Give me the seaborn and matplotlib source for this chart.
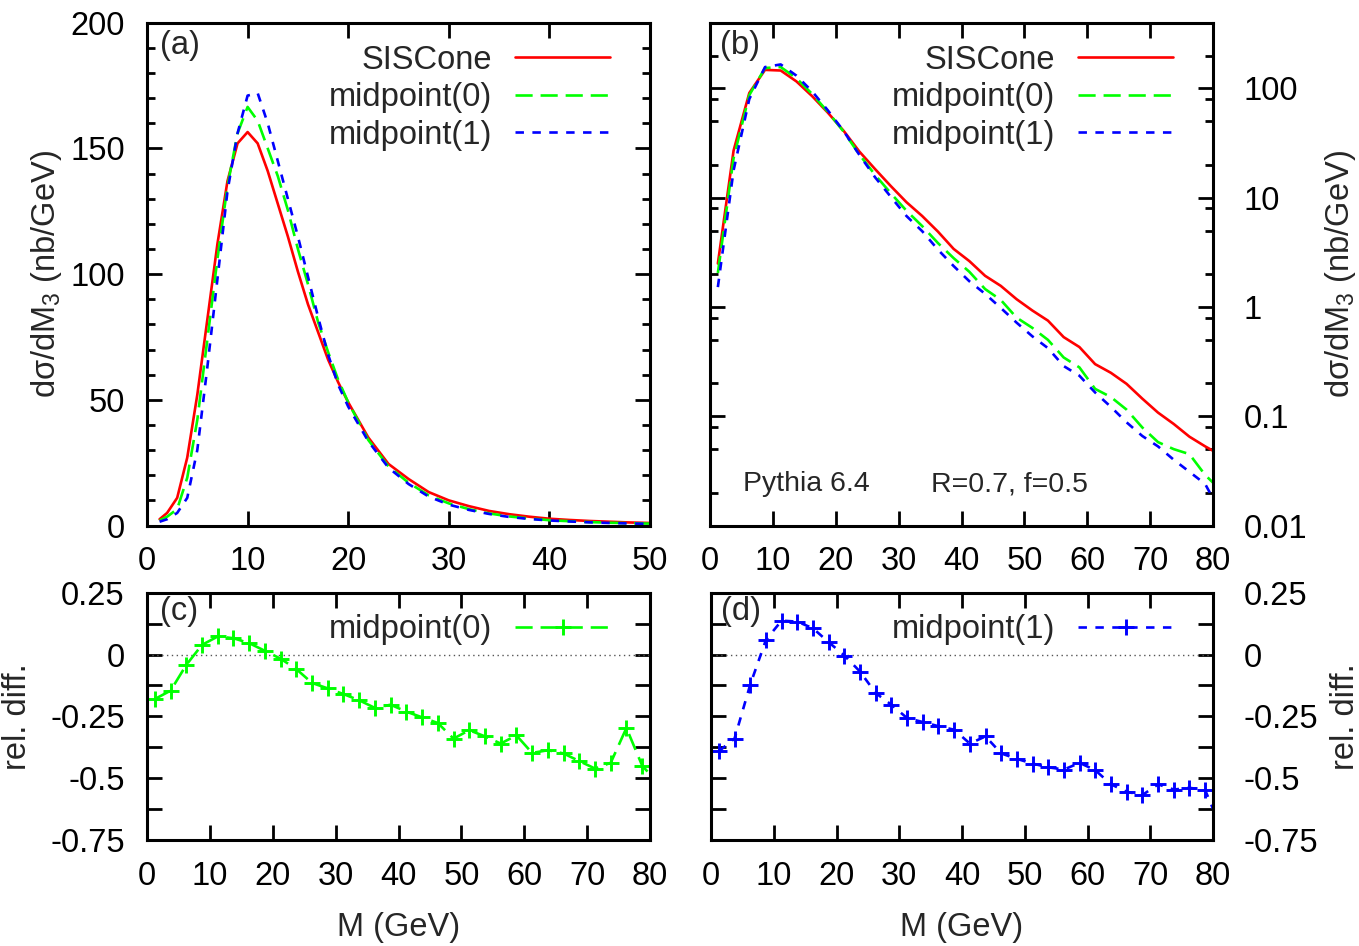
import numpy as np
import pandas as pd
import matplotlib
matplotlib.use('Agg')
import matplotlib.pyplot as plt
import seaborn as sns
from matplotlib.ticker import MultipleLocator, LogLocator, FuncFormatter, NullFormatter

# panel (a): finer binning, linear scale
M_a = [1.25, 2, 3, 4, 5, 6, 7, 8, 9, 10, 11, 12, 13, 14, 15, 16, 17, 18, 19, 20,
       22, 24, 26, 28, 30, 32, 34, 36, 38, 40, 42, 44, 46, 48, 50]
sis_a = [2.5, 5, 11, 27, 52, 82, 112, 137, 152, 156.5, 152, 141, 128, 115, 101, 88, 77, 66, 57, 49,
         35, 24.5, 18.5, 13.3, 10, 7.7, 5.8, 4.5, 3.5, 2.7, 2.2, 1.8, 1.5, 1.2, 1.0]
mp0_a = [2.0, 3.5, 6.5, 19, 42, 74, 106, 135, 156, 166.5, 161, 150, 139, 125.5, 110, 96, 81, 69, 58, 49,
         34, 23.5, 17, 12, 8.8, 6.5, 4.8, 3.6, 2.8, 2.1, 1.7, 1.35, 1.1, 0.9, 0.75]
mp1_a = [1.5, 2.5, 5, 11, 30, 63, 98, 133, 156, 171, 172, 160, 145, 130, 115, 99, 83, 68, 56, 47.3,
         33.5, 23, 16.5, 11.5, 8.3, 6.2, 4.6, 3.4, 2.6, 2.0, 1.6, 1.25, 1.0, 0.8, 0.65]

# panels (b)-(d): 2.5 GeV bins
M_b = [1.25, 3.75, 6.25, 8.75, 11.25, 13.75, 16.25, 18.75, 21.25, 23.75, 26.25,
       28.75, 31.25, 33.75, 36.25, 38.75, 41.25, 43.75, 46.25, 48.75, 51.25, 53.75,
       56.25, 58.75, 61.25, 63.75, 66.25, 68.75, 71.25, 73.75, 76.25, 78.75, 81.25]
sis_b = [2.5, 27, 91, 148, 146, 116, 85, 60, 41, 26.5, 18.3, 12.8, 9.1, 6.8, 4.9, 3.4,
         2.63, 1.93, 1.56, 1.18, 0.93, 0.75, 0.53, 0.43, 0.30, 0.25, 0.198, 0.145,
         0.108, 0.085, 0.065, 0.053, 0.044]
mp0_b = [2.05, 23, 87, 154, 157, 124, 89, 61, 40.3, 24.9, 16.2, 11.0, 7.6, 5.5, 3.85, 2.8,
         2.1, 1.46, 1.16, 0.8, 0.645, 0.50, 0.345, 0.28, 0.178, 0.15, 0.115, 0.079,
         0.058, 0.05, 0.045, 0.029, 0.021]
mp1_b = [1.52, 17.8, 80, 157, 166, 131, 94, 63, 40.8, 24.7, 15.4, 10.2, 6.8, 4.94, 3.35, 2.37,
         1.72, 1.32, 0.98, 0.72, 0.54, 0.42, 0.288, 0.235, 0.165, 0.122, 0.088, 0.066,
         0.053, 0.04, 0.031, 0.024, 0.013]
rel0 = [-0.18, -0.146, -0.042, 0.039, 0.073, 0.066, 0.046, 0.015, -0.017, -0.059, -0.115,
        -0.137, -0.16, -0.185, -0.216, -0.203, -0.231, -0.254, -0.277, -0.34, -0.306,
        -0.331, -0.36, -0.327, -0.398, -0.387, -0.40, -0.431, -0.461, -0.438, -0.297,
        -0.449, -0.52]
rel1 = [-0.391, -0.34, -0.122, 0.059, 0.137, 0.133, 0.106, 0.05, -0.004, -0.069, -0.156,
        -0.203, -0.257, -0.273, -0.29, -0.304, -0.36, -0.331, -0.40, -0.422, -0.441,
        -0.456, -0.465, -0.438, -0.468, -0.525, -0.555, -0.568, -0.525, -0.546, -0.539,
        -0.548, -0.70]

sns.set_style('ticks')
plt.rcParams['font.family'] = ['Liberation Sans', 'DejaVu Sans']
plt.rcParams['mathtext.fontset'] = 'custom'
plt.rcParams['mathtext.rm'] = 'Liberation Sans'
plt.rcParams['mathtext.it'] = 'Liberation Sans:italic'

FS = 23.5
RED, GREEN, BLUE = '#ff0000', '#00ff00', '#0000ff'
LS_SIS = '-'
LS_MP0 = (0, (6.5, 3))
LS_MP1 = (0, (3.2, 3.2))
LW = 1.9
YLAB = 'd\u03c3/dM$_{3}$ (nb/GeV)'

W, H = 1359, 946
fig = plt.figure(figsize=(W / 100, H / 100), dpi=100)


def box(l, t, r, b):
    return [l / W, 1 - b / H, (r - l) / W, (b - t) / H]


ax_a = fig.add_axes(box(147, 22.7, 650, 525.5))
ax_b = fig.add_axes(box(710, 22.7, 1213, 525.5))
ax_c = fig.add_axes(box(147, 592.7, 650, 840))
ax_d = fig.add_axes(box(711, 592.7, 1213, 840))


def style(ax, pad):
    for s in ax.spines.values():
        s.set_linewidth(2.2)
        s.set_color('black')
    ax.tick_params(which='both', direction='in', top=True, right=True, width=2,
                   labelsize=FS, colors='black')
    ax.tick_params(which='major', length=11)
    ax.tick_params(which='minor', length=6)
    ax.tick_params(axis='x', pad=15)
    ax.tick_params(axis='y', pad=pad)


def legend(ax, y):
    ax.legend(loc='upper right', bbox_to_anchor=(0.9205, y), frameon=False,
              markerfirst=False, fontsize=FS, handlelength=2.9, handletextpad=0.7,
              labelspacing=0.2, borderpad=0, borderaxespad=0, numpoints=1)


fmt = FuncFormatter(lambda v, p: f'{v:g}')

# (a)
for y, c, ls, lab in [(sis_a, RED, LS_SIS, 'SISCone'), (mp0_a, GREEN, LS_MP0, 'midpoint(0)'),
                      (mp1_a, BLUE, LS_MP1, 'midpoint(1)')]:
    sns.lineplot(x=M_a, y=y, ax=ax_a, color=c, linestyle=ls, lw=LW, label=lab)
ax_a.set_xlim(0, 50)
ax_a.set_ylim(0, 200)
ax_a.xaxis.set_major_locator(MultipleLocator(10))
ax_a.yaxis.set_major_locator(MultipleLocator(50))
ax_a.yaxis.set_minor_locator(MultipleLocator(10))
ax_a.xaxis.set_major_formatter(fmt)
ax_a.yaxis.set_major_formatter(fmt)
style(ax_a, 16)
legend(ax_a, 0.956)
ax_a.text(0.026, 0.954, '(a)', transform=ax_a.transAxes, va='center', fontsize=FS)
ax_a.set_ylabel(YLAB, fontsize=FS)
ax_a.yaxis.set_label_coords(-0.165, 0.5)

# (b)
for y, c, ls, lab in [(sis_b, RED, LS_SIS, 'SISCone'), (mp0_b, GREEN, LS_MP0, 'midpoint(0)'),
                      (mp1_b, BLUE, LS_MP1, 'midpoint(1)')]:
    sns.lineplot(x=M_b, y=y, ax=ax_b, color=c, linestyle=ls, lw=LW, label=lab)
ax_b.set_yscale('log')
ax_b.set_xlim(0, 80)
ax_b.set_ylim(0.01, 400)
ax_b.xaxis.set_major_locator(MultipleLocator(10))
ax_b.yaxis.set_major_locator(LogLocator(base=10))
ax_b.yaxis.set_minor_locator(LogLocator(base=10, subs=[2, 5, 8]))
ax_b.yaxis.set_minor_formatter(NullFormatter())
ax_b.xaxis.set_major_formatter(fmt)
ax_b.yaxis.set_major_formatter(fmt)
style(ax_b, 22)
ax_b.tick_params(axis='y', labelleft=False, labelright=True)
legend(ax_b, 0.956)
ax_b.text(0.02, 0.954, '(b)', transform=ax_b.transAxes, va='center', fontsize=FS)
ax_b.text(0.066, 0.0825, 'Pythia 6.4', transform=ax_b.transAxes, va='center', fontsize=20.5)
ax_b.text(0.439, 0.0825, 'R=0.7, f=0.5', transform=ax_b.transAxes, va='center', fontsize=20.5)
ax_b.yaxis.set_label_position('right')
ax_b.set_ylabel(YLAB, fontsize=FS)
ax_b.yaxis.set_label_coords(1.219, 0.5)

# (c), (d)
for ax, rel, c, ls, lab, tag in [(ax_c, rel0, GREEN, LS_MP0, 'midpoint(0)', '(c)'),
                                 (ax_d, rel1, BLUE, LS_MP1, 'midpoint(1)', '(d)')]:
    ax.axhline(0, color='#555555', linestyle=(0, (1, 2.5)), lw=1)
    sns.lineplot(x=M_b, y=rel, ax=ax, color=c, linestyle=ls, lw=LW, marker='+',
                 markersize=11, markeredgewidth=2.1, markeredgecolor=c, label=lab)
    ax.set_xlim(0, 80)
    ax.set_ylim(-0.75, 0.25)
    ax.xaxis.set_major_locator(MultipleLocator(10))
    ax.yaxis.set_major_locator(MultipleLocator(0.25))
    ax.yaxis.set_minor_locator(MultipleLocator(0.125))
    ax.xaxis.set_major_formatter(fmt)
    ax.yaxis.set_major_formatter(fmt)
    legend(ax, 0.914)
    ax.text(0.026 if ax is ax_c else 0.02, 0.925, tag, transform=ax.transAxes,
            va='center', fontsize=FS)
    ax.set_xlabel('M (GeV)', fontsize=FS)
    ax.xaxis.set_label_coords(0.5, -0.29)
    ax.set_ylabel('rel. diff.', fontsize=FS)

style(ax_c, 16)
ax_c.tick_params(which='minor', length=11)
ax_c.yaxis.set_label_coords(-0.227, 0.5)
style(ax_d, 22)
ax_d.tick_params(which='minor', length=11)
ax_d.tick_params(axis='y', labelleft=False, labelright=True)
ax_d.yaxis.set_label_position('right')
ax_d.yaxis.set_label_coords(1.233, 0.5)

fig.savefig('out.png', dpi=100)
